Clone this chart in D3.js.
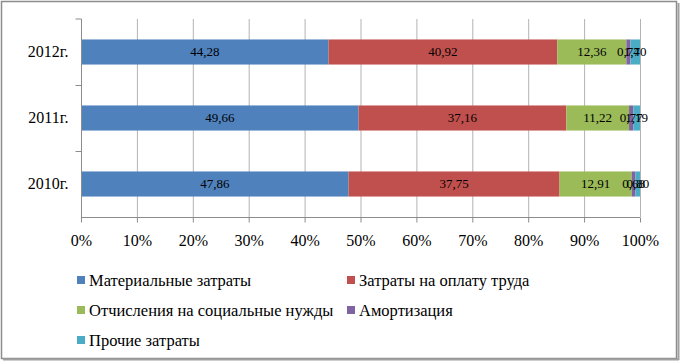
<!DOCTYPE html>
<html>
<head>
<meta charset="utf-8">
<script src="https://cdn.jsdelivr.net/npm/d3@7"></script>
<style>
  body { margin: 0; background: #fff; }
</style>
</head>
<body>
<script>
// data
const years = ["2012г.", "2011г.", "2010г."]
const seriesNames = ["Материальные затраты", "Затраты на оплату труда", "Отчисления на социальные нужды", "Амортизация", "Прочие затраты"]
const material = [44.28, 49.66, 47.86]
const labour = [40.92, 37.16, 37.75]
const social = [12.36, 11.22, 12.91]
const amort = [0.74, 0.77, 0.68]
const other = [1.70, 1.19, 0.80]
const tickLabels = [0, 0.1, 0.2, 0.3, 0.4, 0.5, 0.6, 0.7, 0.8, 0.9, 1]
const colors = ["#4F81BD", "#C0504D", "#9BBB59", "#8064A2", "#4BACC6"]

function drawBarChart() {
    const svg = d3.select("body").append("svg").attr("width", 680).attr("height", 361)
        .style("font-family", "'Liberation Serif'")

    // outer frame
    svg.append("rect").attr("x", 1.5).attr("y", 1.5).attr("width", 675).attr("height", 357)
       .attr("fill", "#fff").attr("stroke", "#8c8c8c").attr("stroke-width", 1.5)
    svg.append("line").attr("x1", 678.5).attr("x2", 678.5).attr("y1", 3).attr("y2", 360)
       .attr("stroke", "#a0a0a0").attr("stroke-width", 2)
    svg.append("line").attr("x1", 3).attr("x2", 679).attr("y1", 359.5).attr("y2", 359.5)
       .attr("stroke", "#a0a0a0").attr("stroke-width", 2)

    const left = 81, right = 640, top = 19, bottom = 217

    const table = years.map((y, i) => ({
        year: y, s0: material[i], s1: labour[i], s2: social[i], s3: amort[i], s4: other[i]
    }))
    const keys = ["s0", "s1", "s2", "s3", "s4"]
    const stacked = d3.stack().keys(keys).offset(d3.stackOffsetExpand)(table)

    const xScale = d3.scaleLinear().domain([0, 1]).range([left, right])
    const yScale = d3.scaleBand().domain(years).range([top, bottom]).paddingInner(0.62).paddingOuter(0.31)
    const band = d3.scaleBand().domain(years).range([top, bottom])

    // gridlines
    svg.append("g").selectAll("line").data(tickLabels.slice(1)).join("line")
       .attr("x1", d => xScale(d) + 0.5).attr("x2", d => xScale(d) + 0.5)
       .attr("y1", top).attr("y2", bottom)
       .attr("stroke", "#b3b3b3").attr("stroke-width", 1)

    // bars
    const g = svg.append("g")
    stacked.forEach((layer, k) => {
        g.append("g").attr("fill", colors[k]).selectAll("rect").data(layer).join("rect")
         .attr("x", d => xScale(d[0]))
         .attr("y", d => yScale(d.data.year))
         .attr("width", d => xScale(d[1]) - xScale(d[0]))
         .attr("height", yScale.bandwidth())
    })

    // data labels (small segments overlap, as in the original)
    stacked.forEach((layer, k) => {
        g.append("g").selectAll("text").data(layer).join("text")
         .attr("x", d => (xScale(d[0]) + xScale(d[1])) / 2)
         .attr("y", d => yScale(d.data.year) + yScale.bandwidth() / 2 + 4)
         .attr("text-anchor", "middle")
         .style("font-family", "'Liberation Serif'")
         .style("font-size", "13px")
         .attr("fill", "#000")
         .text(d => d3.format(".2f")(d.data[keys[k]]).replace(".", ","))
    })

    // x axis
    const xAxis = svg.append("g").attr("transform", "translate(0," + (bottom + 0.5) + ")")
        .call(d3.axisBottom(xScale).tickValues(tickLabels).tickSize(5).tickPadding(12)
              .tickFormat(d => Math.round(d * 100) + "%"))
    xAxis.attr("font-family", null).attr("font-size", null)
    xAxis.select(".domain").attr("stroke", "#8c8c8c").attr("d", "M" + left + ",0H" + right)
    xAxis.selectAll(".tick line").attr("stroke", "#8c8c8c")
    xAxis.selectAll("text").attr("fill", "#000")
         .style("font-family", "'Liberation Serif'").style("font-size", "16px")

    // y axis
    const yAxis = svg.append("g").attr("transform", "translate(" + (left + 0.5) + ",0)")
        .call(d3.axisLeft(band).tickSize(0).tickPadding(13))
    yAxis.attr("font-family", null).attr("font-size", null)
    yAxis.select(".domain").attr("stroke", "#8c8c8c").attr("d", "M-6," + top + "H0V" + bottom)
    yAxis.selectAll("text").attr("fill", "#000")
         .style("font-family", "'Liberation Serif'").style("font-size", "16px")
    yAxis.append("g").selectAll("line").data(years.slice(1)).join("line")
         .attr("x1", -6).attr("x2", 0)
         .attr("y1", d => band(d) + 0.5).attr("y2", d => band(d) + 0.5)
         .attr("stroke", "#8c8c8c")

    // legend
    const legendPos = [[77, 281], [347, 281], [77, 311], [347, 311], [77, 341]]
    const legend = svg.append("g").selectAll("g").data(seriesNames).join("g")
        .attr("transform", (d, i) => "translate(" + legendPos[i][0] + "," + legendPos[i][1] + ")")
    legend.append("rect").attr("x", 0).attr("y", -5).attr("width", 8).attr("height", 8)
        .attr("fill", (d, i) => colors[i])
    legend.append("text").attr("x", 12).attr("y", 5).attr("fill", "#000")
        .style("font-family", "'Liberation Serif'").style("font-size", "16.5px")
        .text(d => d)
}
drawBarChart()
</script>
</body>
</html>
